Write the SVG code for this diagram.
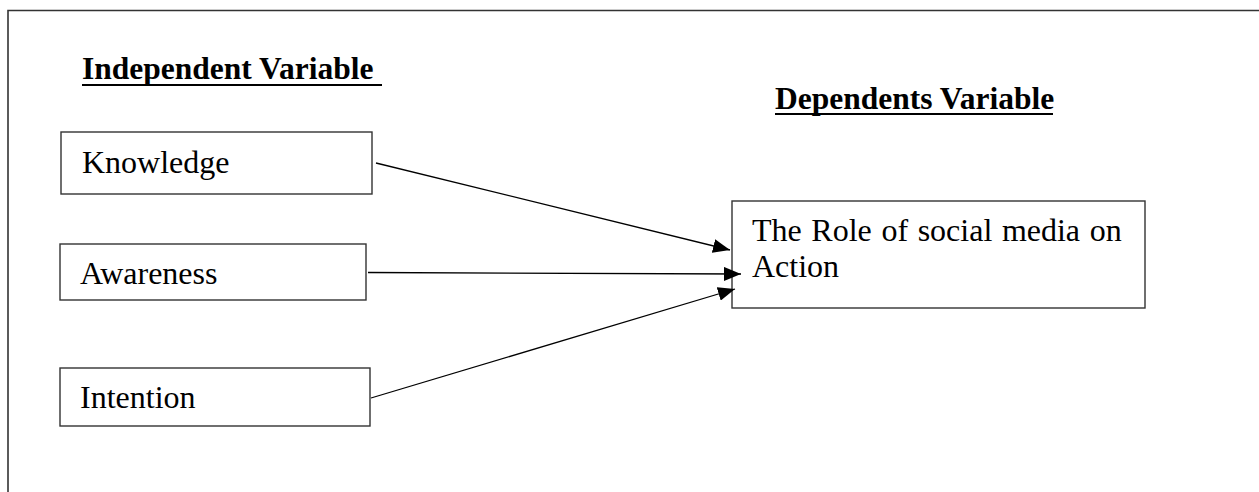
<svg xmlns="http://www.w3.org/2000/svg" width="1259" height="492" viewBox="0 0 1259 492">
<defs>
<marker id="arr" markerUnits="userSpaceOnUse" markerWidth="18" markerHeight="14" refX="17" refY="7" orient="auto">
<path d="M0,0 L17,7 L0,14 Z" fill="#000"/>
</marker>
<style>
.box{fill:#fff;stroke:#333;stroke-width:1.4}
.t{font-family:"Liberation Serif","Times New Roman",serif;font-size:32px;fill:#000}
.h{font-family:"Liberation Serif","Times New Roman",serif;font-size:31.5px;font-weight:bold;fill:#000}
.ul{stroke:#000;stroke-width:2.2}
.c{stroke:#000;stroke-width:1.3;fill:none;marker-end:url(#arr)}
</style>
</defs>
<rect width="1259" height="492" fill="#fff"/>
<path d="M8,492 L8,10.5 L1259,10.5" fill="none" stroke="#333" stroke-width="1.6"/>
<g id="heading-independent">
<text class="h" x="82" y="79">Independent Variable</text>
<line class="ul" x1="82" y1="85" x2="382" y2="85"/>
</g>
<g id="heading-dependent">
<text class="h" x="775" y="109">Dependents Variable</text>
<line class="ul" x1="775" y1="114" x2="1053" y2="114"/>
</g>
<g id="knowledge">
<rect class="box" x="61" y="132" width="311" height="62"/>
<text class="t" x="82" y="173">Knowledge</text>
</g>
<g id="awareness">
<rect class="box" x="60" y="244" width="306" height="56"/>
<text class="t" x="80" y="284">Awareness</text>
</g>
<g id="intention">
<rect class="box" x="60" y="368" width="310" height="58"/>
<text class="t" x="80" y="408">Intention</text>
</g>
<g id="role">
<rect class="box" x="732" y="201" width="413" height="107"/>
<text class="t" x="752" y="241" word-spacing="1.6">The Role of social media on</text>
<text class="t" x="752" y="277">Action</text>
</g>
<g id="connectors">
<line class="c" x1="376" y1="163" x2="730" y2="250"/>
<line class="c" x1="368" y1="272.5" x2="741" y2="274"/>
<line class="c" x1="371" y1="398" x2="735" y2="289"/>
</g>
</svg>
